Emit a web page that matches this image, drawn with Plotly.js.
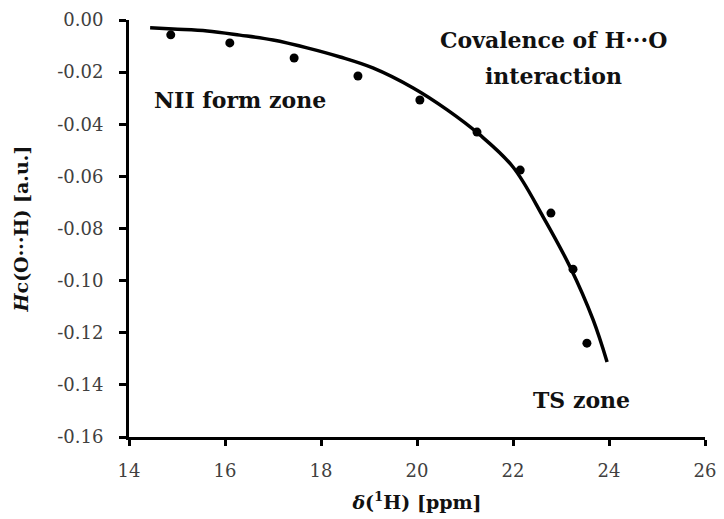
<!DOCTYPE html>
<html>
<head>
<meta charset="utf-8">
<script src="https://cdn.plot.ly/plotly-3.0.1.min.js"></script>
<style>html,body{margin:0;padding:0;background:#fff;}#chart{width:724px;height:519px;}</style>
</head>
<body>
<div id="chart"></div>
<script>
// Measured data points
var shiftPpm = [14.87, 16.10, 17.44, 18.77, 20.06, 21.25, 22.15, 22.79, 23.25, 23.54];
var hcValues = [-0.0057, -0.0088, -0.0146, -0.0215, -0.0307, -0.0430, -0.0576, -0.0741, -0.0956, -0.1240];

// Trend curve
var curveX = [14.44, 14.92, 15.63, 16.31, 17.00, 17.71, 18.40, 19.08, 19.92, 20.63, 21.31, 22.00, 22.63, 23.19, 23.67, 23.96];
var curveY = [-0.0030, -0.0035, -0.0042, -0.0058, -0.0077, -0.0107, -0.0142, -0.0184, -0.0261, -0.0345, -0.0441, -0.0564, -0.0756, -0.0948, -0.1151, -0.1312];

// Tick labels
var xTickVals = [14, 16, 18, 20, 22, 24, 26];
var xTickText = ["14", "16", "18", "20", "22", "24", "26"];
var yTickVals = [0, -0.02, -0.04, -0.06, -0.08, -0.10, -0.12, -0.14, -0.16];
var yTickText = ["0.00", "-0.02", "-0.04", "-0.06", "-0.08", "-0.10", "-0.12", "-0.14", "-0.16"];

var serif = "DejaVu Serif, Liberation Serif, serif";

var traces = [
  {
    x: curveX, y: curveY, type: "scatter", mode: "lines",
    line: {color: "#000", width: 3.5, shape: "spline", smoothing: 1},
    hoverinfo: "skip", showlegend: false
  },
  {
    x: shiftPpm, y: hcValues, type: "scatter", mode: "markers",
    marker: {color: "#000", size: 9},
    showlegend: false
  }
];

var annFont = {family: serif, size: 22, color: "#111"};

var layout = {
  width: 724, height: 519,
  margin: {l: 129, r: 19, t: 20, b: 82},
  paper_bgcolor: "#fff", plot_bgcolor: "#fff",
  showlegend: false,
  xaxis: {
    range: [14, 26], tickvals: xTickVals, ticktext: xTickText,
    showgrid: false, zeroline: false, showline: true, linecolor: "#000", linewidth: 3,
    ticks: "outside", ticklen: 6, tickwidth: 3, tickcolor: "#000",
    ticklabelstandoff: 9,
    tickfont: {family: serif, size: 18, color: "#404040"},
    title: {text: "<b><i>δ</i>(<sup>1</sup>H) [ppm]</b>", font: {family: serif, size: 19, color: "#111"}, standoff: 17}
  },
  yaxis: {
    range: [-0.16, 0], tickvals: yTickVals, ticktext: yTickText,
    showgrid: false, zeroline: false, showline: true, linecolor: "#000", linewidth: 3,
    ticks: "outside", ticklen: 7, tickwidth: 3, tickcolor: "#000",
    ticklabelstandoff: 12,
    tickfont: {family: serif, size: 18, color: "#404040"},
    title: {text: "<b><i>H</i>c(O···H) [a.u.]</b>", font: {family: serif, size: 19, color: "#111"}, standoff: 24}
  },
  annotations: [
    {x: 16.31, y: -0.0307, xref: "x", yref: "y", text: "<b>NII form zone</b>", showarrow: false, font: annFont},
    {x: 22.85, y: -0.0077, xref: "x", yref: "y", text: "<b>Covalence of H···O</b>", showarrow: false, font: annFont},
    {x: 22.85, y: -0.0215, xref: "x", yref: "y", text: "<b>interaction</b>", showarrow: false, font: annFont},
    {x: 23.42, y: -0.1458, xref: "x", yref: "y", text: "<b>TS zone</b>", showarrow: false, font: annFont}
  ]
};

Plotly.newPlot("chart", traces, layout, {displayModeBar: false, staticPlot: true});
</script>
</body>
</html>
